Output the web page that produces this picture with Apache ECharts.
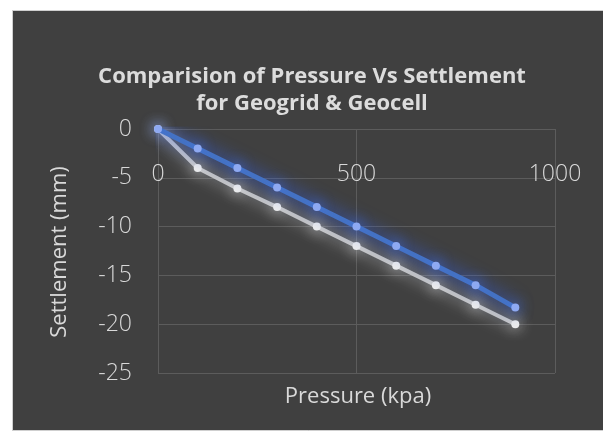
<!DOCTYPE html>
<html>
<head>
<meta charset="utf-8">
<script src="https://cdn.jsdelivr.net/npm/echarts@6/dist/echarts.min.js"></script>
<style>
  html, body { margin: 0; padding: 0; background: #ffffff; }
  #chart { width: 603px; height: 434px; }
</style>
</head>
<body>
<div id="chart"></div>
<script>
// Pressure (kPa) against settlement (mm) for the two reinforcement types
var pressure = [0, 100, 200, 300, 400, 500, 600, 700, 800, 900];
var geogrid = [0, -2, -4, -6, -8, -10, -12, -14, -16, -18.3];
var geocell = [0, -4, -6.1, -8, -10, -12, -14, -16, -18, -20];
var xTicks = [0, 500, 1000];
var yTicks = [0, -5, -10, -15, -20, -25];

var titleLines = ['Comparision of Pressure Vs Settlement', 'for Geogrid & Geocell'];
var xTitle = 'Pressure (kpa)';
var yTitle = 'Settlement (mm)';

function pairs(xs, ys) {
  return xs.map(function (x, i) { return [x, ys[i]]; });
}

var textColor = '#d9d9d9';
var font = '"Open Sans", "DejaVu Sans", sans-serif';

var chart = echarts.init(document.getElementById('chart'), null, { renderer: 'canvas' });

chart.setOption({
  backgroundColor: '#ffffff',
  animation: false,
  graphic: [
    {
      type: 'rect', z: -10, silent: true,
      shape: { x: 12.5, y: 10.5, width: 600, height: 420 },
      style: { fill: '#404040', stroke: '#cfcfcf', lineWidth: 1 }
    },
    {
      type: 'text', z: 10, x: 312, y: 77,
      style: {
        text: titleLines[0], fill: '#dcdcdc', align: 'center', verticalAlign: 'middle',
        font: 'bold 22px ' + font
      }
    },
    {
      type: 'text', z: 10, x: 312, y: 104,
      style: {
        text: titleLines[1], fill: '#dcdcdc', align: 'center', verticalAlign: 'middle',
        font: 'bold 22px ' + font
      }
    },
    {
      type: 'text', z: 10, x: 358, y: 397,
      style: { text: xTitle, fill: textColor, font: '22px ' + font, align: 'center', verticalAlign: 'middle' }
    },
    {
      type: 'text', z: 10, rotation: Math.PI / 2, x: 60, y: 252,
      style: { text: yTitle, fill: textColor, font: '22px ' + font, align: 'center', verticalAlign: 'middle' }
    }
  ],
  grid: { left: 158, right: 48, top: 129, bottom: 61, containLabel: false },
  xAxis: {
    type: 'value', position: 'top',
    min: xTicks[0], max: xTicks[xTicks.length - 1], interval: 500,
    axisLine: { show: false },
    axisTick: { show: false },
    axisLabel: {
      inside: true, margin: 34, color: textColor, fontFamily: font, fontSize: 23, fontWeight: 300,
      formatter: function (v) { return String(v); }
    },
    splitLine: { show: true, lineStyle: { color: '#5c5c5c', width: 1 } }
  },
  yAxis: {
    type: 'value',
    min: yTicks[yTicks.length - 1], max: yTicks[0], interval: 5,
    axisLine: { show: false },
    axisTick: { show: false },
    axisLabel: { margin: 26, color: textColor, fontFamily: font, fontSize: 23, fontWeight: 300 },
    splitLine: { show: true, lineStyle: { color: '#5c5c5c', width: 1 } }
  },
  series: [
    {
      name: 'Geocell', type: 'line', data: pairs(pressure, geocell),
      symbol: 'circle', symbolSize: 8, z: 3,
      lineStyle: { color: '#c4c4c4', width: 4, shadowBlur: 16, shadowColor: 'rgba(255,255,255,0.75)' },
      itemStyle: { color: '#ececec', shadowBlur: 14, shadowColor: 'rgba(255,255,255,0.9)' }
    },
    {
      name: 'Geogrid', type: 'line', data: pairs(pressure, geogrid),
      symbol: 'circle', symbolSize: 8, z: 4,
      lineStyle: { color: '#4472c4', width: 5, shadowBlur: 18, shadowColor: 'rgba(50,100,255,1)' },
      itemStyle: { color: '#8ea9f2', shadowBlur: 14, shadowColor: 'rgba(70,120,255,1)' }
    }
  ]
});
</script>
</body>
</html>
